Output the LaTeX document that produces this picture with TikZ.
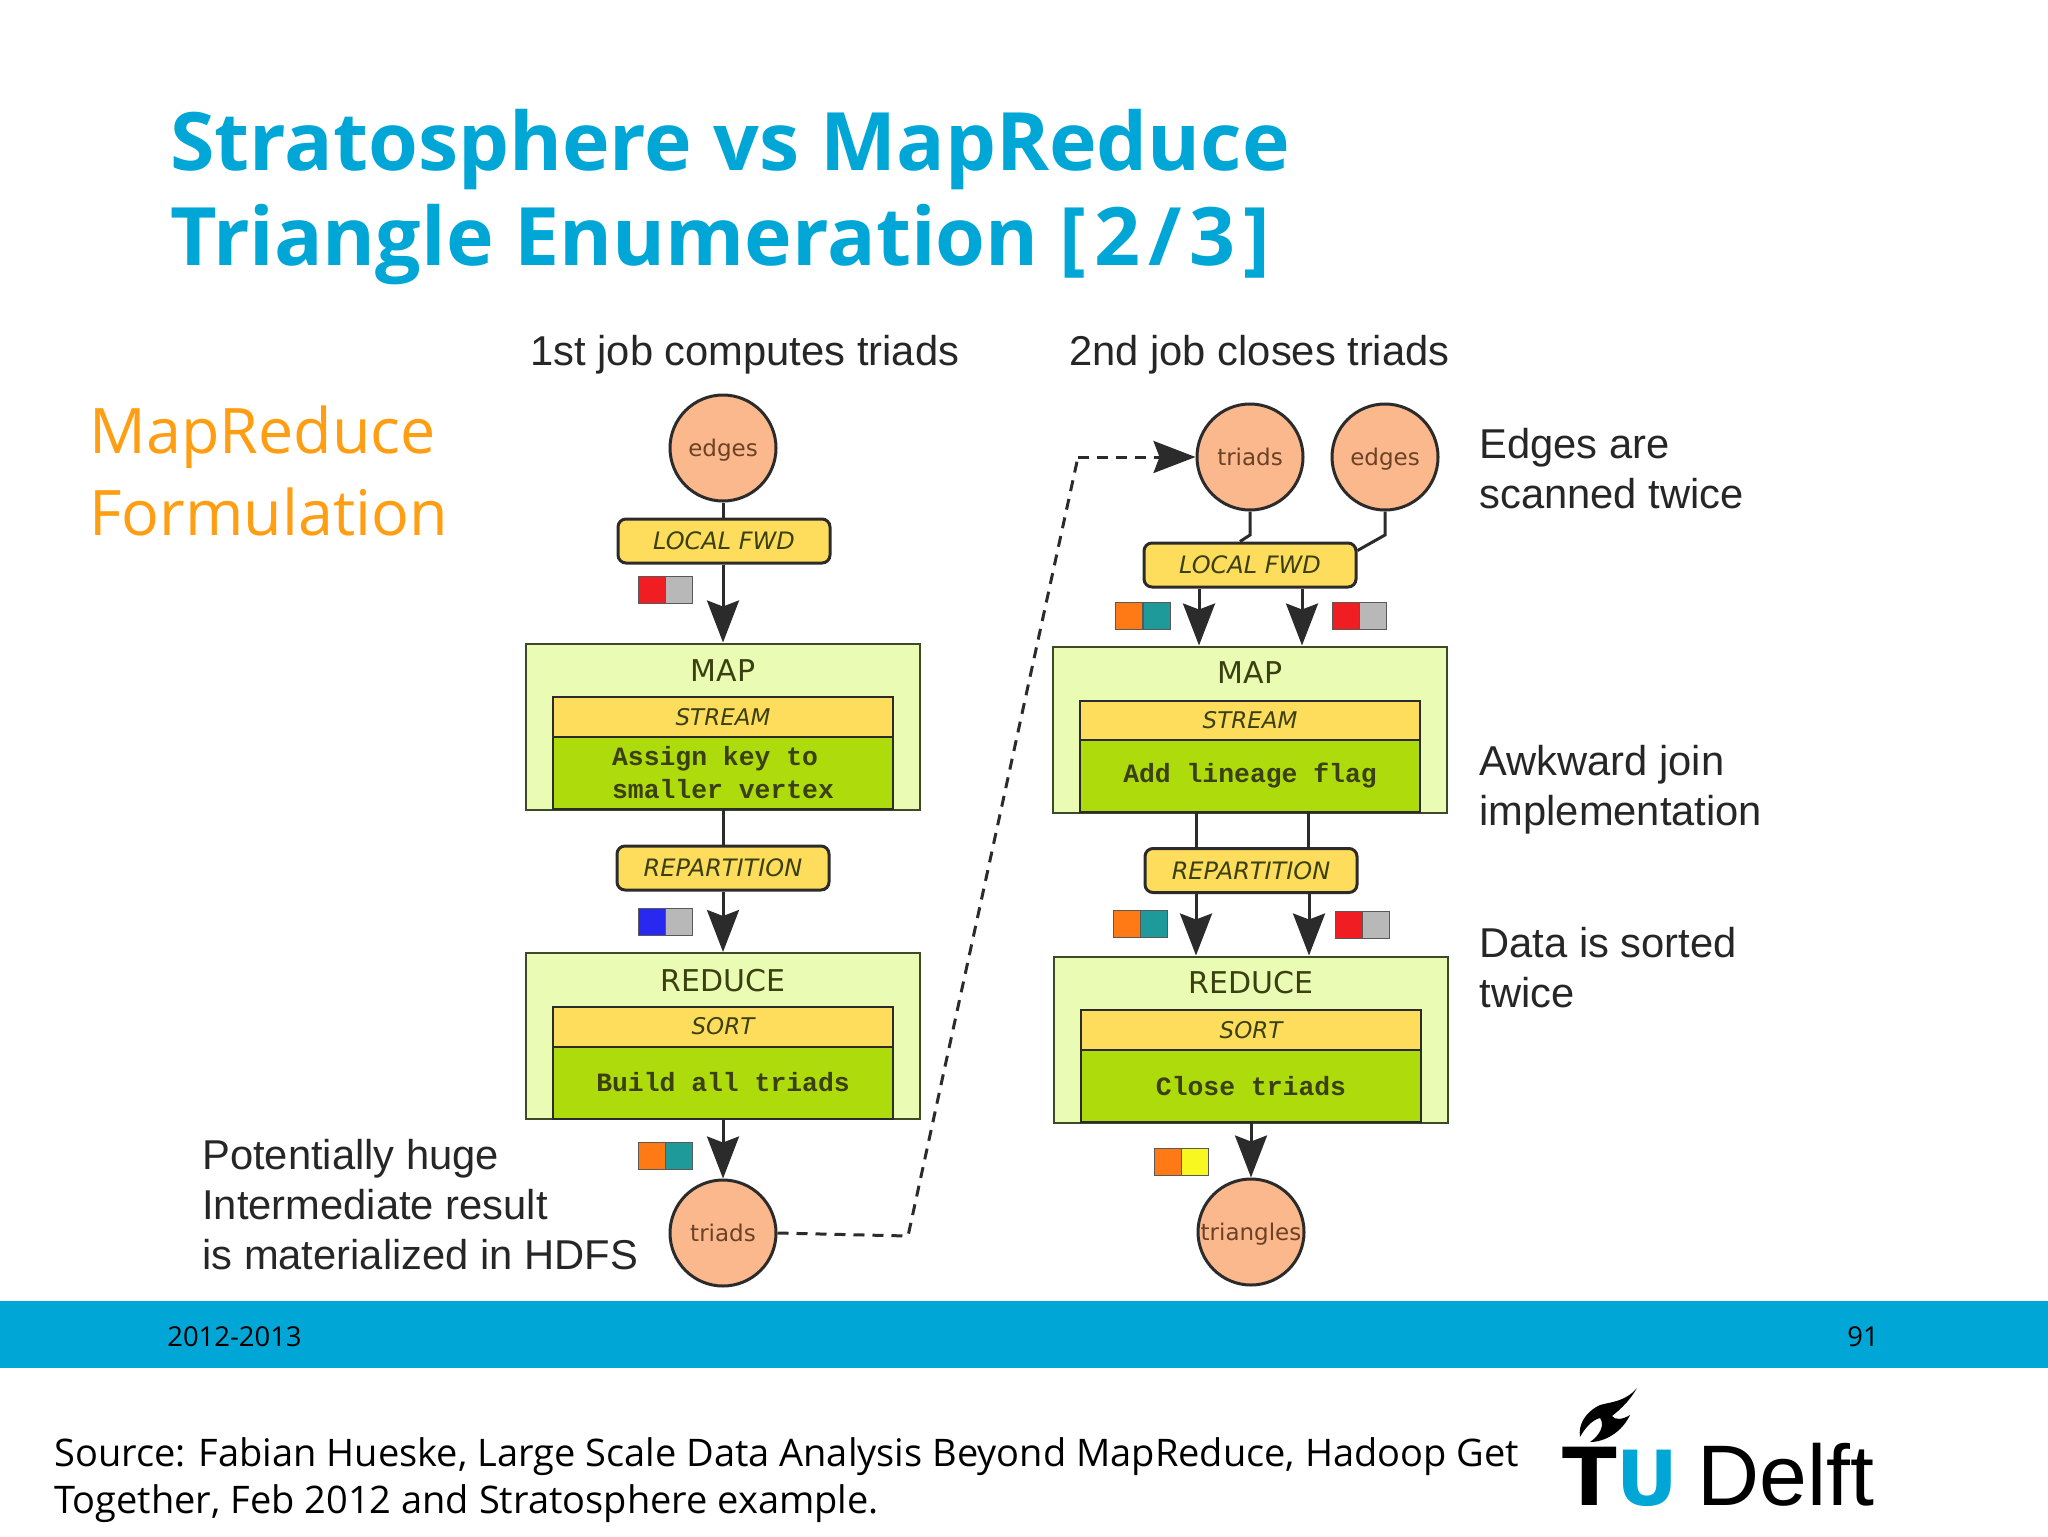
\documentclass[tikz,border=0pt]{standalone}
\usepackage{fontspec}
\usepackage{tikz}
\usetikzlibrary{arrows.meta}
\newfontfamily\slidefont{Open Sans}
\newfontfamily\notefont{Liberation Sans}
\newfontfamily\flowfont{DejaVu Sans}
\newfontfamily\codefont{Liberation Mono}
\definecolor{tucyan}{HTML}{00A6D6}
\definecolor{slideorange}{HTML}{FF9E12}
\definecolor{inkdark}{HTML}{2B2B2B}
\definecolor{framedark}{HTML}{3C4A28}
\definecolor{circlefill}{HTML}{FBB88C}
\definecolor{circletext}{HTML}{6B4226}
\definecolor{flowtext}{HTML}{3A4010}
\definecolor{opfill}{HTML}{FFDD5C}
\definecolor{phasefill}{HTML}{EAFCB4}
\definecolor{codefill}{HTML}{AEDB0C}
\definecolor{swred}{HTML}{F01E22}
\definecolor{swgray}{HTML}{B8B8B8}
\definecolor{swblue}{HTML}{2828F0}
\definecolor{sworange}{HTML}{FF7A14}
\definecolor{swteal}{HTML}{1F9A9A}
\definecolor{swyellow}{HTML}{F8F820}
\tikzset{
  datacircle/.style={circle, draw=inkdark, line width=1.5pt, fill=circlefill, minimum size=53pt, inner sep=0pt, text height=8.5pt, text depth=0pt, text=circletext, font=\flowfont\fontsize{11.5}{13}\selectfont},
  opbox/.style={rectangle, rounded corners=4pt, draw=inkdark, line width=1.5pt, fill=opfill, minimum width=106pt, minimum height=22pt, inner sep=0pt, text=flowtext, font=\flowfont\itshape\fontsize{12}{14}\selectfont},
  phasebox/.style={rectangle, draw=framedark, line width=1pt, fill=phasefill, minimum width=197pt, minimum height=83pt},
  phasetitle/.style={inner sep=0pt, text=flowtext, font=\flowfont\fontsize{15}{18}\selectfont},
  stagebox/.style={rectangle, draw=inkdark, line width=1pt, fill=opfill, minimum width=170pt, minimum height=20pt, inner sep=0pt, text=flowtext, font=\flowfont\itshape\fontsize{11.5}{14}\selectfont},
  codebox/.style={rectangle, draw=inkdark, line width=1pt, fill=codefill, minimum width=170pt, minimum height=36pt, inner sep=0pt, align=center, text=flowtext, font=\codefont\bfseries\fontsize{13.2}{16.5}\selectfont},
  swatch/.style={rectangle, draw=gray!70!black, line width=0.6pt, minimum width=13.5pt, minimum height=13.5pt, inner sep=0pt},
  flow/.style={inkdark, line width=1.5pt, -{Stealth[length=21pt,width=16pt,inset=3pt]}},
  plainflow/.style={inkdark, line width=1.5pt},
  jobflow/.style={inkdark, line width=1.5pt, dash pattern=on 5.5pt off 4pt},
  note/.style={anchor=west, inner sep=0pt, align=left, text=black!85, font=\notefont\fontsize{20.85}{25}\selectfont},
  slidehead/.style={anchor=base west, inner sep=0pt, text=tucyan, font=\slidefont\bfseries\fontsize{40.3}{46}\selectfont},
  sidehead/.style={anchor=base west, inner sep=0pt, text=slideorange, font=\slidefont\fontsize{31.4}{35}\selectfont},
  footnum/.style={anchor=base west, inner sep=0pt, font=\slidefont\fontsize{13.7}{17}\selectfont},
  sourcetext/.style={anchor=west, inner sep=0pt, align=left, font=\slidefont\fontsize{19}{23.5}\selectfont}
}
\begin{document}
\begin{tikzpicture}[x=0.5pt, y=-0.5pt]
\useasboundingbox (0, 0) rectangle (2048, 1536);

\node[slidehead] (titleA) at (170, 170) {Stratosphere vs MapReduce};
\node[slidehead] (titleB) at (170, 265) {Triangle Enumeration {\addfontfeatures{LetterSpace=10}[2/3]}};
\node[sidehead] (sideA) at (89, 453) {MapReduce};
\node[sidehead] (sideB) at (89, 535) {Formulation};

\node[note, anchor=base west] (jobA) at (530, 365) {1st job computes triads};
\node[note, anchor=base west] (jobB) at (1069, 365) {2nd job closes triads};

% first job
\node[datacircle] (edgesA) at (723, 448) {edges};
\node[opbox] (fwdA) at (724, 541) {LOCAL FWD};
\node[phasebox] (mapA) at (723, 726.5) {};
\node[phasetitle] (mapAtitle) at (723, 671) {MAP};
\node[stagebox] (streamA) at (723, 717) {STREAM};
\node[codebox, align=left] (codeA) at (723, 773) {Assign key to\\smaller vertex};
\node[opbox] (repA) at (723, 868) {REPARTITION};
\node[phasebox] (reduceA) at (723, 1036) {};
\node[phasetitle] (reduceAtitle) at (723, 981) {REDUCE};
\node[stagebox] (sortA) at (723, 1026.5) {SORT};
\node[codebox] (buildA) at (723, 1082.5) {Build all triads};
\node[datacircle] (triadsA) at (723, 1233) {triads};

\node[swatch, fill=swred] (swA1) at (652, 590) {};
\node[swatch, fill=swgray] (swA2) at (679, 590) {};
\node[swatch, fill=swblue] (swB1) at (652, 922) {};
\node[swatch, fill=swgray] (swB2) at (679, 922) {};
\node[swatch, fill=sworange] (swC1) at (652, 1156) {};
\node[swatch, fill=swteal] (swC2) at (679, 1156) {};

\draw[plainflow] (edgesA) -- (fwdA.north -| edgesA);
\draw[flow] (fwdA.south -| mapA) -- (mapA.north);
\draw[plainflow] (codeA) -- (repA.north -| codeA);
\draw[flow] (repA) -- (reduceA.north);
\draw[flow] (buildA.south) -- (triadsA);

% second job
\node[datacircle] (triadsB) at (1250, 457) {triads};
\node[datacircle] (edgesB) at (1385, 457) {edges};
\node[opbox] (fwdB) at (1250, 565) {LOCAL FWD};
\node[phasebox] (mapB) at (1250, 729.5) {};
\node[phasetitle] (mapBtitle) at (1250, 673) {MAP};
\node[stagebox] (streamB) at (1250, 720.5) {STREAM};
\node[codebox] (codeB) at (1250, 776) {Add lineage flag};
\node[opbox] (repB) at (1251, 870.5) {REPARTITION};
\node[phasebox] (reduceB) at (1251, 1039.5) {};
\node[phasetitle] (reduceBtitle) at (1251, 983) {REDUCE};
\node[stagebox] (sortB) at (1251, 1030) {SORT};
\node[codebox] (closeB) at (1251, 1086) {Close triads};
\node[datacircle] (trianglesB) at (1251, 1232) {triangles};

\node[swatch, fill=sworange] (swD1) at (1129, 616) {};
\node[swatch, fill=swteal] (swD2) at (1157, 616) {};
\node[swatch, fill=swred] (swE1) at (1346, 616) {};
\node[swatch, fill=swgray] (swE2) at (1373, 616) {};
\node[swatch, fill=sworange] (swF1) at (1127, 924) {};
\node[swatch, fill=swteal] (swF2) at (1154, 924) {};
\node[swatch, fill=swred] (swG1) at (1349, 925) {};
\node[swatch, fill=swgray] (swG2) at (1376, 925) {};
\node[swatch, fill=sworange] (swH1) at (1168, 1162) {};
\node[swatch, fill=swyellow] (swH2) at (1195, 1162) {};

\coordinate (bendT) at (1250, 535);
\coordinate (bendE) at (1385, 535);
\draw[plainflow] (triadsB.south) -- (bendT) -- ([xshift=-5pt]fwdB.north);
\draw[plainflow] (edgesB.south) -- (bendE) -- ([yshift=-4.5pt]fwdB.north east);
\draw[flow] ([xshift=-25.5pt]fwdB.south) -- ([xshift=-25.5pt]mapB.north);
\draw[flow] ([xshift=26pt]fwdB.south) -- ([xshift=26pt]mapB.north);
\draw[plainflow] ([xshift=-27pt]codeB.south) -- ([xshift=-27.5pt]repB.north);
\draw[plainflow] ([xshift=29pt]codeB.south) -- ([xshift=28.5pt]repB.north);
\draw[flow] ([xshift=-27.5pt]repB.south) -- ([xshift=-27.5pt]reduceB.north);
\draw[flow] ([xshift=29pt]repB.south) -- ([xshift=29pt]reduceB.north);
\draw[flow] (closeB.south) -- (trianglesB);

\coordinate (jobbendA) at (908, 1236);
\coordinate (jobbendB) at (1078, 457);
\draw[jobflow] (triadsA.east) -- (jobbendA) -- (jobbendB);
\draw[flow, dash pattern=on 5.5pt off 4pt] (jobbendB) -- (triadsB.west);

\node[note] (noteA) at (1479, 469) {Edges are\\scanned twice};
\node[note] (noteB) at (1479, 790) {Awkward join\\implementation};
\node[note] (noteC) at (1479, 968) {Data is sorted\\twice};
\node[note] (noteD) at (202, 1205) {Potentially huge\\Intermediate result\\is materialized in HDFS};

% footer
\fill[tucyan] (0, 1301) rectangle (2048, 1368);
\node[footnum] (yearA) at (167, 1346) {2012-2013};
\node[footnum] (pageA) at (1847, 1346) {91};
\node[sourcetext] (sourceA) at (54, 1480) {Source: Fabian Hueske, Large Scale Data Analysis Beyond MapReduce, Hadoop Get\\Together, Feb 2012 and Stratosphere example.};

% logo
\node[anchor=base west, inner sep=0pt, font=\flowfont\bfseries\fontsize{40}{40}\selectfont] (logoT) at (1562, 1505) {T};
\node[anchor=base west, inner sep=0pt, text=tucyan, font=\flowfont\bfseries\fontsize{38}{40}\selectfont] (logoU) at (1616, 1505) {U};
\node[anchor=base west, inner sep=0pt, font=\notefont\fontsize{43}{43}\selectfont] (logoD) at (1697, 1505) {Delft};
\fill[black] (1637, 1388) .. controls (1625, 1402) and (1610, 1402) .. (1600, 1405) .. controls (1585, 1412) and (1578, 1425) .. (1580, 1437) .. controls (1585, 1428) and (1592, 1420) .. (1600, 1418) .. controls (1605, 1425) and (1600, 1435) .. (1590, 1442) .. controls (1605, 1442) and (1622, 1432) .. (1630, 1415) .. controls (1622, 1420) and (1615, 1420) .. (1612, 1416) .. controls (1622, 1408) and (1630, 1400) .. (1637, 1388);
\end{tikzpicture}
\end{document}
